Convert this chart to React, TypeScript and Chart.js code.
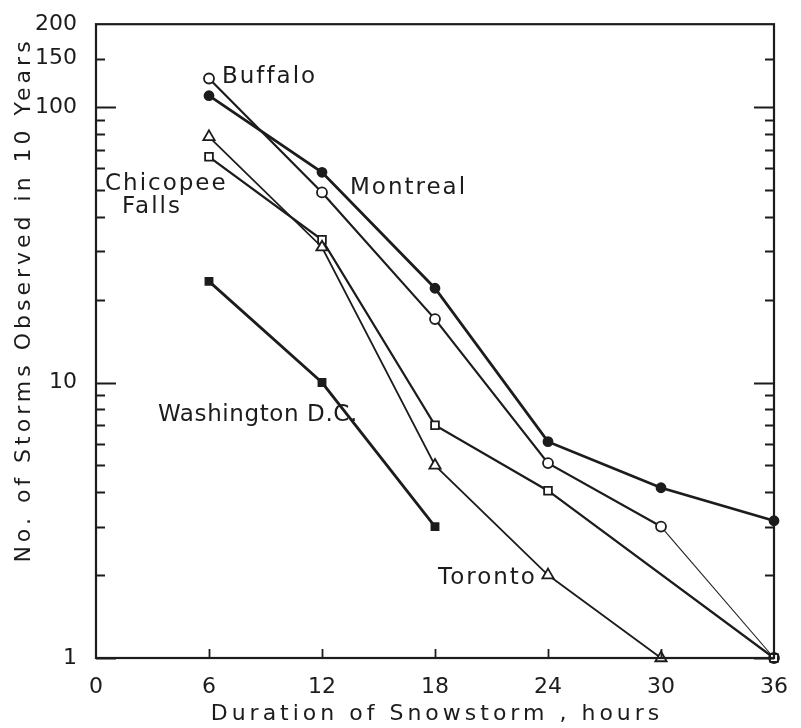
import React, { useEffect, useRef } from 'react';
import { Chart, registerables } from 'chart.js';
Chart.register(...registerables);

const hours = [6, 12, 18, 24, 30, 36];
const buffalo = [127, 49, 17, 5.1, 3.0, 1];
const montreal = [110, 58, 22, 6.1, 4.15, 3.15];
const chicopee = [66, 33, 7.0, 4.05, null, 1];
const toronto = [78, 31, 5.0, 2.0, 1, null];
const washington = [23.3, 10, 3.0, null, null, null];

const xTicks = [0, 6, 12, 18, 24, 30, 36];
const yMajor = [1, 10, 100];
const yMinor = [2, 3, 4, 5, 6, 7, 8, 9, 20, 30, 40, 50, 60, 70, 80, 90, 150, 200];
const yLabels = [1, 10, 100, 150, 200];

const INK = '#1c1c1c';
const FONT = '"DejaVu Sans", sans-serif';

const pts = (arr: (number | null)[]) =>
  hours.map((h, i) => ({ x: h, y: arr[i] })).filter((p) => p.y !== null);

const annotations = [
  { text: 'Buffalo', px: 222, py: 83, sp: 2 },
  { text: 'Montreal', px: 350, py: 194, sp: 2 },
  { text: 'Chicopee', px: 105, py: 190, sp: 2 },
  { text: 'Falls', px: 122, py: 213, sp: 2 },
  { text: 'Washington D.C.', px: 158, py: 421, sp: 0.6 },
  { text: 'Toronto', px: 438, py: 584, sp: 2 },
];

const framePlugin = {
  id: 'frame',
  afterDraw(chart: any) {
    const { ctx, chartArea: a, scales } = chart;
    const x = scales.x, y = scales.y;
    ctx.save();
    ctx.strokeStyle = INK;
    ctx.lineWidth = 2.2;
    ctx.strokeRect(a.left, a.top, a.right - a.left, a.bottom - a.top);
    ctx.lineWidth = 1.8;
    const all = [...yMajor, ...yMinor];
    all.forEach((v) => {
      if (v === 200) return;
      const py = Math.round(y.getPixelForValue(v)) + 0.5;
      const len = yMajor.includes(v) ? 20 : 9;
      ctx.beginPath();
      ctx.moveTo(a.left, py);
      ctx.lineTo(a.left + len, py);
      ctx.moveTo(a.right, py);
      ctx.lineTo(a.right - len, py);
      ctx.stroke();
    });
    xTicks.forEach((v) => {
      if (v === 0 || v === 36) return;
      const px = Math.round(x.getPixelForValue(v)) + 0.5;
      ctx.beginPath();
      ctx.moveTo(px, a.bottom);
      ctx.lineTo(px, a.bottom - 9);
      ctx.stroke();
    });
    ctx.fillStyle = INK;
    ctx.textBaseline = 'alphabetic';
    ctx.textAlign = 'left';
    ctx.font = `23px ${FONT}`;
    annotations.forEach((t) => {
      (ctx as any).letterSpacing = `${t.sp}px`;
      ctx.fillText(t.text, t.px, t.py);
    });
    ctx.font = `22px ${FONT}`;
    (ctx as any).letterSpacing = '4px';
    ctx.textAlign = 'center';
    ctx.textBaseline = 'middle';
    ctx.fillText('Duration of Snowstorm , hours', (a.left + a.right) / 2 + 2, 714);
    ctx.translate(24, 300);
    ctx.rotate(-Math.PI / 2);
    ctx.fillText('No. of Storms Observed in 10 Years', 0, 0);
    ctx.restore();
  },
};

const mk = (label: string, arr: (number | null)[], style: string, filled: boolean, width: number, radius: number, extra: any = {}) => ({
  label,
  data: pts(arr),
  borderColor: INK,
  borderWidth: width,
  pointStyle: style,
  pointRadius: radius,
  pointBackgroundColor: filled ? INK : '#ffffff',
  pointBorderColor: INK,
  pointBorderWidth: 1.8,
  tension: 0,
  fill: false,
  clip: false,
  ...extra,
});

export default function App() {
  const ref = useRef<HTMLCanvasElement>(null);
  useEffect(() => {
    document.body.style.margin = '0';
    const c = new Chart(ref.current!, {
      type: 'line',
      data: {
        datasets: [
          mk('Washington D.C.', washington, 'rect', true, 2.8, 5),
          mk('Toronto', toronto, 'triangle', false, 1.8, 6.5),
          mk('Chicopee Falls', chicopee, 'rect', false, 2.3, 5.5),
          mk('Buffalo', buffalo, 'circle', false, 2.2, 5, {
            segment: { borderWidth: (ctx: any) => (ctx.p0DataIndex === 4 ? 1.1 : 2.2) },
          }),
          mk('Montreal', montreal, 'circle', true, 2.8, 4.5),
        ],
      },
      options: {
        animation: false,
        responsive: false,
        layout: { padding: { left: 0, top: 18, right: 27, bottom: 0 } },
        plugins: { legend: { display: false }, tooltip: { enabled: false } },
        scales: {
          x: {
            type: 'linear',
            min: 0,
            max: 36,
            afterBuildTicks: (s: any) => {
              s.ticks = xTicks.map((v) => ({ value: v }));
            },
            afterFit: (s: any) => {
              s.height = 70;
            },
            grid: { display: false },
            border: { display: false },
            ticks: {
              autoSkip: false,
              maxRotation: 0,
              padding: 8,
              color: INK,
              font: { family: FONT, size: 22 },
            },
          },
          y: {
            type: 'logarithmic',
            min: 1,
            max: 200,
            afterBuildTicks: (s: any) => {
              s.ticks = [...yMajor, ...yMinor].sort((a, b) => a - b).map((v) => ({ value: v }));
            },
            afterFit: (s: any) => {
              s.width = 96;
            },
            grid: { display: false },
            border: { display: false },
            ticks: {
              autoSkip: false,
              padding: 11,
              color: INK,
              font: { family: FONT, size: 22 },
              callback: (v: any) => (yLabels.includes(Number(v)) ? String(v) : ''),
            },
          },
        },
      },
      plugins: [framePlugin],
    });
    return () => c.destroy();
  }, []);
  return (
    <div style={{ width: 801, height: 728, background: '#fff' }}>
      <canvas ref={ref} width={801} height={728} style={{ width: 801, height: 728, display: 'block' }} />
    </div>
  );
}
